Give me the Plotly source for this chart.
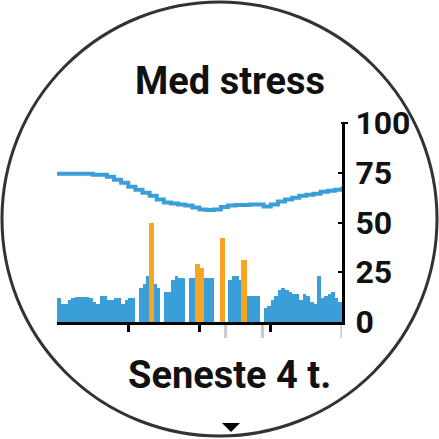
import plotly.graph_objects as go

# ---- data ----
# stress values per 3-minute slot over the last 4 hours (None = no data)
slot_minutes = 3
stress = [12, 9, 9, 11, 12, 12.5, 12.5, 12.5, 12.5, 12,
          10, 9, 13, 13, 11, 11, 12, 12, 9, 11,
          12, 12, None, 17, 19, 23, 50, 19, 17, None,
          15, 15, 21, 23, 22, 22, None, 22, 22, 29,
          27, 22, 22, 22, None, None, 42, None, 21, 23,
          23, 21, 31, 13, 13, 13, 13, None, 7, 8,
          11, 13, 16, 17, 16, 15, 14, 14, 11, 14,
          13, 10, 9, 23, 12, 13, 14, 15, 12, 10]

# smoothed line (every 6 minutes)
line_minutes = [0, 6, 12, 18, 24, 30, 36, 42, 48, 54, 60, 66, 72, 78, 84, 90, 96, 102, 108, 114,
                120, 126, 132, 138, 144, 150, 156, 162, 168, 174, 180, 186, 192, 198, 204, 210,
                216, 222, 228, 234, 240]
line_vals = [74.5, 74.5, 74.5, 74.5, 74.5, 74, 74, 73, 71.5, 70, 68, 66.5, 65, 63.5, 61.5, 60,
             59.5, 59, 58.5, 57.5, 56.5, 56.3, 56.5, 57.8, 58.5, 58.8, 58.8, 59, 59, 58, 59,
             60.5, 61.5, 62.5, 63.5, 64, 64.5, 65.5, 66, 66.5, 68]

y_ticks = [0, 25, 50, 75, 100]
hour_ticks = [60, 120, 180]
gray_marks = [142, 173, 240]

title = "Med stress"
subtitle = "Seneste 4 t."

BLUE = "#3a9fd8"
ORANGE = "#f6a623"
STRESS_LIMIT = 25

W = H = 439
def px(x):
    return x / W
def py(y):
    return 1 - y / H

bar_x = [slot_minutes * i + slot_minutes / 2 for i in range(len(stress))]
blue_y = [v if (v is not None and v <= STRESS_LIMIT) else None for v in stress]
orange_y = [v if (v is not None and v > STRESS_LIMIT) else None for v in stress]

fig = go.Figure()
fig.add_trace(go.Bar(x=bar_x, y=blue_y, width=slot_minutes, marker=dict(color=BLUE, line=dict(width=0)),
                     hoverinfo="skip"))
fig.add_trace(go.Bar(x=bar_x, y=orange_y, width=slot_minutes * 1.5,
                     marker=dict(color=ORANGE, line=dict(width=0)), hoverinfo="skip"))
fig.add_trace(go.Scatter(x=line_minutes, y=line_vals, mode="lines",
                         line=dict(color=BLUE, width=4, shape="hv"), hoverinfo="skip"))

fig.update_layout(
    width=W, height=H, margin=dict(l=0, r=0, t=0, b=0, pad=0), autosize=False,
    paper_bgcolor="white", plot_bgcolor="white", showlegend=False, bargap=0, barmode="overlay",
    xaxis=dict(range=[0, 240], domain=[px(57), px(342)], showline=True, linecolor="black", linewidth=3,
               ticks="outside", tickvals=hour_ticks, ticklen=7, tickwidth=3, tickcolor="black",
               showticklabels=False, showgrid=False, zeroline=False, fixedrange=True, automargin=False),
    yaxis=dict(range=[0, 100], domain=[py(322), py(123)], side="right", showline=True, linecolor="black",
               linewidth=3, ticks="inside", ticklen=4, tickwidth=2, tickcolor="black", tickvals=y_ticks,
               showgrid=False, zeroline=False, ticklabelstandoff=4, automargin=False,
               tickfont=dict(family="Roboto", size=32, color="#111", weight="bold")),
)

shapes = []
# watch bezel
shapes.append(dict(type="circle", xref="paper", yref="paper", x0=px(2), x1=px(437), y0=py(436), y1=py(2),
                   line=dict(color="#333333", width=3)))
# short cap at top of the value axis
shapes.append(dict(type="line", xref="paper", yref="paper", x0=px(341), x1=px(348), y0=py(123), y1=py(123),
                   line=dict(color="black", width=2)))
# light gray marks under axis
for m in gray_marks:
    shapes.append(dict(type="line", xref="x", yref="paper", x0=m, x1=m, y0=py(325), y1=py(338),
                       line=dict(color="#c8c8c8", width=3)))
# down arrow
shapes.append(dict(type="path", xref="paper", yref="paper",
                   path=f"M {px(222)} {py(423)} L {px(240)} {py(423)} L {px(231)} {py(432)} Z",
                   fillcolor="black", line=dict(width=0)))
fig.update_layout(shapes=shapes)

fig.add_annotation(text=title, x=px(230), y=py(81), xref="paper", yref="paper", showarrow=False,
                   xanchor="center", yanchor="middle",
                   font=dict(family="Roboto", size=38, color="#111", weight="bold"))
fig.add_annotation(text=subtitle, x=px(229), y=py(375), xref="paper", yref="paper", showarrow=False,
                   xanchor="center", yanchor="middle",
                   font=dict(family="Roboto", size=38, color="#111", weight="bold"))

fig.write_html("out.html", config={"displayModeBar": False},
               post_script="document.body.style.margin='0';document.body.style.overflow='hidden';")
